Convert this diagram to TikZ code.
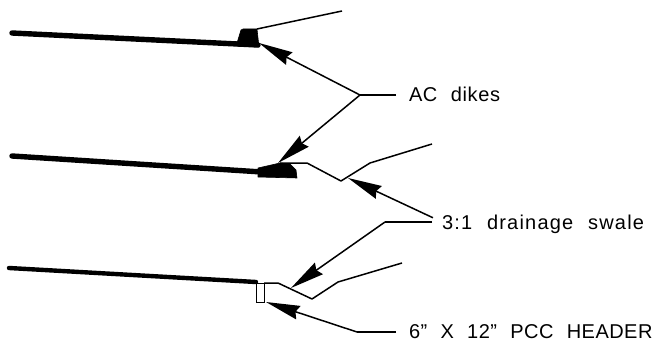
\documentclass[tikz,border=0pt]{standalone}
\usepackage{fontspec}
\setmainfont[LetterSpace=3,WordSpace=2.2]{Liberation Sans}
\usetikzlibrary{arrows.meta}
\tikzset{
  road/.style={line width=5.4pt,line cap=round},
  dike/.style={fill=black,draw=black,line width=0.6pt,line join=round},
  grade/.style={line width=1.5pt,line join=round},
  leader/.style={line width=1.5pt,line join=round},
  pointer/.style={leader,-{Stealth[length=34pt,width=14pt,inset=3pt]}},
  callout/.style={anchor=west,inner sep=0pt,outer sep=0pt,font=\fontsize{20}{24}\selectfont,text height=14pt,text depth=0pt}
}
\begin{document}
\begin{tikzpicture}[x=1pt,y=-1pt]
\useasboundingbox (0,0) rectangle (653,342);

% labels
\node[callout] (lblDikes) at (409,95) {AC dikes};
\node[callout,font=\fontsize{20}{24}\selectfont\addfontfeature{LetterSpace=6}] (lblSwale) at (442,222) {3:1 drainage swale};
\node[callout,text depth=2pt,font=\fontsize{20}{24}\selectfont\addfontfeature{LetterSpace=2.4}] (lblHeader) at (409,332) {6" X 12" PCC HEADER};

% upper section
\coordinate (Road1-a) at (12,33);
\coordinate (Road1-b) at (258,45);
\coordinate (Grade1-a) at (257,29);
\coordinate (Grade1-b) at (342,11);
\coordinate (Tip1) at (259,43);
\coordinate (Bend1) at (360,95);
\draw[road] (Road1-a) -- (Road1-b);
\draw[dike] (237,43) -- (241,30) -- (243,29) -- (Grade1-a) -- (259,47) -- (237,46) -- cycle;
\draw[grade] (Grade1-a) -- (Grade1-b);

% middle section
\coordinate (Road2-a) at (12,156);
\coordinate (Road2-b) at (262,172);
\coordinate (Grade2-a) at (280,163);
\coordinate (Grade2-b) at (307,163);
\coordinate (Grade2-c) at (341,181);
\coordinate (Grade2-d) at (370,163);
\coordinate (Grade2-e) at (432,144);
\coordinate (Tip2) at (278,163);
\coordinate (Tip3) at (348,178);
\draw[road] (Road2-a) -- (Road2-b);
\draw[dike] (258,168) -- (Grade2-a) -- (290,164) -- (296,170) -- (297,178) -- (258,177) -- cycle;
\draw[grade] (Grade2-a) -- (Grade2-b) -- (Grade2-c) -- (Grade2-d) -- (Grade2-e);

% lower section
\coordinate (Road3-a) at (9,268);
\coordinate (Road3-b) at (256,282);
\coordinate (Grade3-a) at (264,283);
\coordinate (Grade3-b) at (278,283);
\coordinate (Grade3-c) at (312,299);
\coordinate (Grade3-d) at (338,282);
\coordinate (Grade3-e) at (402,263);
\coordinate (Tip4) at (291,288);
\coordinate (Tip5) at (266,302);
\coordinate (Bend2) at (385,222);
\coordinate (Bend3) at (357,332);
\draw[road,line width=4.4pt] (Road3-a) -- (Road3-b);
\node[draw,line width=1.3pt,minimum width=8pt,minimum height=19pt,inner sep=0pt,anchor=north west] (Header) at (256,283) {};
\draw[grade] (Grade3-a) -- (Grade3-b) -- (Grade3-c) -- (Grade3-d) -- (Grade3-e);

% callouts
\draw[leader,shorten <=13pt] (lblDikes.west) -- (Bend1);
\draw[pointer] (Bend1) -- (Tip1);
\draw[pointer] (Bend1) -- (Tip2);
\draw[pointer,shorten <=10pt] (lblSwale.west) -- (Tip3);
\draw[leader,shorten <=10pt] (lblSwale.west) -- (Bend2);
\draw[pointer] (Bend2) -- (Tip4);
\draw[leader,shorten <=13pt] (lblHeader.west) -- (Bend3);
\draw[pointer] (Bend3) -- (Tip5);
\end{tikzpicture}
\end{document}
